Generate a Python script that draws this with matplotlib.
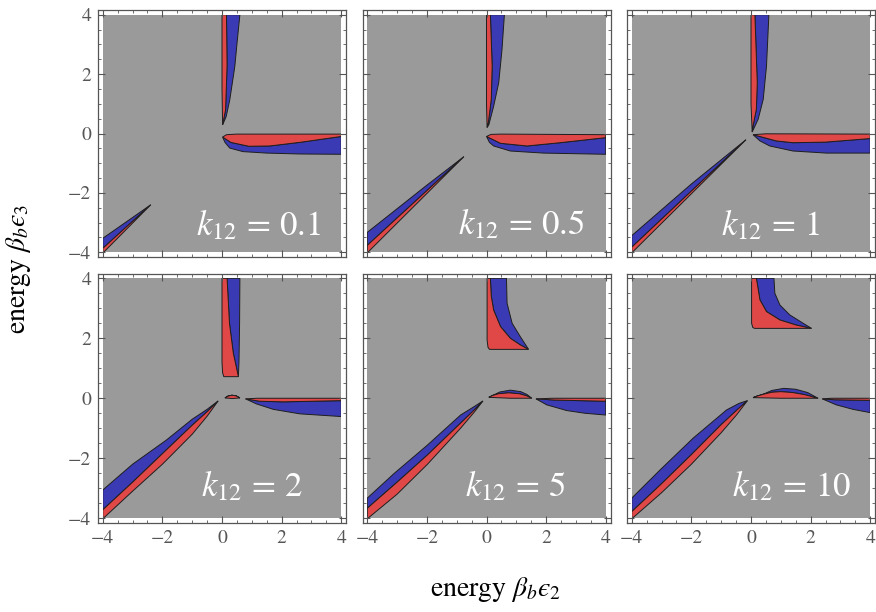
import numpy as np
import matplotlib
matplotlib.use('Agg')
import matplotlib.pyplot as plt
from matplotlib.patches import Polygon, Rectangle

plt.rcParams['font.family'] = 'STIXGeneral'
plt.rcParams['mathtext.fontset'] = 'stix'

# valores de k12 y posicion de las etiquetas
k_values = ['0.1', '0.5', '1', '2', '5', '10']
label_x = [-0.86, -0.95, -1.0, -0.70, -0.72, -0.64]
label_y = [-3.42, -3.38, -3.44, -3.28, -3.28, -3.28]

ticks_major = [-4, -2, 0, 2, 4]

# cada brazo: (borde rojo, frontera rojo/azul, borde azul)
arms_01 = [
    ([(0.02, 0.29), (0.0, 1.5), (0.0, 4)],
     [(0.02, 0.29), (0.12, 0.8), (0.17, 2.3), (0.15, 4)],
     [(0.02, 0.29), (0.14, 0.57), (0.26, 1.13), (0.43, 2.26), (0.5, 3.0), (0.6, 4)]),
    ([(0.02, -0.12), (0.15, -0.04), (0.5, -0.02), (4, -0.02)],
     [(0.02, -0.12), (0.3, -0.3), (0.9, -0.43), (1.6, -0.42), (2.6, -0.3), (4, -0.1)],
     [(0.02, -0.12), (0.1, -0.3), (0.26, -0.49), (0.7, -0.61), (1.5, -0.66), (2.6, -0.69), (4, -0.7)]),
    ([(-2.39, -2.40), (-4, -4.03)],
     [(-2.39, -2.40), (-4, -3.87)],
     [(-2.39, -2.40), (-3.2, -2.97), (-4, -3.53)]),
]

arms_05 = [
    ([(0.02, 0.2), (0.0, 1.0), (0.0, 4)],
     [(0.02, 0.2), (0.06, 0.36), (0.16, 1.15), (0.19, 2.27), (0.13, 4)],
     [(0.02, 0.2), (0.08, 0.3), (0.24, 0.92), (0.41, 1.71), (0.52, 2.83), (0.6, 4)]),
    ([(0.0, -0.1), (0.15, -0.03), (0.5, -0.02), (4, -0.04)],
     [(0.0, -0.1), (0.47, -0.33), (1.36, -0.42), (2.47, -0.31), (4, -0.14)],
     [(0.0, -0.1), (0.1, -0.3), (0.24, -0.42), (0.8, -0.59), (1.91, -0.66), (4, -0.7)]),
    ([(-0.76, -0.78), (-4, -4.02)],
     [(-0.76, -0.78), (-4, -3.77)],
     [(-0.76, -0.78), (-2.0, -1.74), (-4, -3.33)]),
]

arms_1 = [
    ([(0.04, 0.05), (0.0, 1.0), (0.0, 4)],
     [(0.04, 0.05), (0.07, 0.26), (0.18, 0.82), (0.21, 1.71), (0.13, 4)],
     [(0.04, 0.05), (0.24, 0.48), (0.41, 1.15), (0.52, 2.27), (0.6, 4)]),
    ([(0.07, -0.04), (0.5, -0.01), (4, -0.02)],
     [(0.07, -0.04), (0.85, -0.25), (1.41, -0.31), (2.5, -0.29), (4, -0.17)],
     [(0.07, -0.04), (0.3, -0.25), (0.63, -0.42), (1.41, -0.59), (2.53, -0.66), (4, -0.66)]),
    ([(-0.17, -0.21), (-4, -4.02)],
     [(-0.17, -0.21), (-4, -3.83)],
     [(-0.17, -0.21), (-2.0, -1.70), (-4, -3.44)]),
]

arms_2 = [
    ([(0.55, 0.72), (0.06, 0.72), (0.02, 0.85), (0.0, 1.2), (0.0, 4)],
     [(0.55, 0.72), (0.38, 1.5), (0.25, 2.5), (0.17, 4)],
     [(0.55, 0.72), (0.57, 1.2), (0.59, 2.5), (0.6, 4)]),
    ([(0.1, 0.01), (0.35, -0.01), (0.6, 0.01)],
     [(0.1, 0.01), (0.2, 0.07), (0.33, 0.1), (0.47, 0.08), (0.6, 0.01)],
     [(0.1, 0.01), (0.2, 0.07), (0.33, 0.1), (0.47, 0.08), (0.6, 0.01)]),
    ([(0.79, -0.02), (1.2, 0.0), (4, 0.0)],
     [(0.79, -0.02), (1.27, -0.1), (2.05, -0.12), (4, -0.08)],
     [(0.79, -0.02), (1.16, -0.19), (1.72, -0.37), (2.61, -0.52), (4, -0.61)]),
    ([(-0.13, -0.09), (-0.5, -0.6), (-1, -1.2), (-2, -2.2), (-3, -3.1), (-4, -4.02)],
     [(-0.13, -0.09), (-0.5, -0.45), (-1, -0.9), (-2, -1.85), (-3, -2.8), (-4, -3.72)],
     [(-0.13, -0.09), (-0.5, -0.37), (-1, -0.7), (-1.86, -1.39), (-3, -2.2), (-4, -3.06)]),
]

arms_5 = [
    ([(1.41, 1.63), (0.1, 1.63), (0.05, 1.7), (0.02, 1.94), (0.02, 4)],
     [(1.41, 1.63), (1.13, 1.78), (0.8, 2.0), (0.47, 2.39), (0.24, 2.94), (0.16, 3.4), (0.13, 4)],
     [(1.41, 1.63), (1.3, 1.8), (1.13, 2.06), (0.86, 2.5), (0.69, 3.17), (0.67, 4)]),
    ([(0.08, 0.03), (0.8, 0.0), (1.52, 0.0)],
     [(0.08, 0.03), (0.2, 0.09), (0.4, 0.15), (0.75, 0.18), (1.1, 0.15), (1.35, 0.08), (1.52, 0.0)],
     [(0.08, 0.03), (0.2, 0.09), (0.45, 0.21), (0.8, 0.27), (1.15, 0.22), (1.35, 0.13), (1.52, 0.0)]),
    ([(1.66, -0.02), (2.2, 0.0), (4, 0.0)],
     [(1.66, -0.02), (2.3, -0.06), (4, -0.1)],
     [(1.66, -0.02), (2.02, -0.22), (2.69, -0.41), (3.3, -0.5), (4, -0.56)]),
    ([(-0.12, -0.09), (-0.4, -0.45), (-0.87, -1.0), (-1.98, -2.2), (-3, -3.2), (-4, -4.02)],
     [(-0.12, -0.09), (-0.4, -0.38), (-0.87, -0.83), (-1.98, -1.89), (-3, -2.8), (-4, -3.67)],
     [(-0.12, -0.09), (-0.4, -0.27), (-0.87, -0.56), (-1.98, -1.56), (-3.09, -2.5), (-4, -3.33)]),
]

arms_10 = [
    ([(2.03, 2.33), (0.12, 2.33), (0.06, 2.36), (0.02, 2.5), (0.02, 4)],
     [(2.03, 2.33), (1.52, 2.44), (0.97, 2.61), (0.52, 2.89), (0.3, 3.28), (0.18, 4)],
     [(2.03, 2.33), (1.75, 2.5), (1.3, 2.78), (0.97, 3.11), (0.8, 3.5), (0.77, 4)]),
    ([(0.07, 0.02), (1.0, 0.0), (2.25, 0.0)],
     [(0.07, 0.02), (0.2, 0.07), (0.4, 0.13), (0.7, 0.2), (1.0, 0.22), (1.4, 0.19), (1.8, 0.12), (2.25, 0.0)],
     [(0.07, 0.02), (0.2, 0.07), (0.4, 0.13), (0.7, 0.26), (1.1, 0.33), (1.5, 0.3), (1.9, 0.19), (2.25, 0.0)]),
    ([(2.39, -0.02), (2.7, 0.0), (4, 0.0)],
     [(2.39, -0.02), (2.8, -0.05), (4, -0.07)],
     [(2.39, -0.02), (2.86, -0.22), (3.42, -0.37), (4, -0.48)]),
    ([(-0.12, -0.08), (-0.48, -0.55), (-1, -1.15), (-2, -2.2), (-3, -3.15), (-4, -4.02)],
     [(-0.12, -0.08), (-0.48, -0.4), (-1, -0.88), (-2, -1.88), (-3, -2.85), (-4, -3.78)],
     [(-0.12, -0.08), (-0.4, -0.17), (-0.82, -0.39), (-1.94, -1.33), (-3.05, -2.39), (-4, -3.33)]),
]

paneles = [arms_01, arms_05, arms_1, arms_2, arms_5, arms_10]

gris = '#9a9a9a'
rojo = '#e04848'
azul = '#3a3ab4'
borde = '#1e1e1e'

fig = plt.figure(figsize=(8.76, 6.12), dpi=100)
W, H = 876, 612
col_left = [98, 362.5, 627]
row_top = [10, 273.5]
row_h = [247, 249.5]
ancho = 248

for i, k in enumerate(k_values):
    r, c = divmod(i, 3)
    ax = fig.add_axes([col_left[c] / W, 1 - (row_top[r] + row_h[r]) / H, ancho / W, row_h[r] / H])
    ax.set_xlim(-4.16, 4.16)
    ax.set_ylim(-4.16, 4.16)

    fondo = Rectangle((-4, -4), 8, 8, facecolor=gris, edgecolor='none', zorder=0)
    ax.add_patch(fondo)

    for red_edge, mid, blue_edge in paneles[i]:
        p_rojo = Polygon(red_edge + mid[::-1], closed=True, facecolor=rojo,
                         edgecolor=borde, linewidth=0.7, zorder=1)
        p_azul = Polygon(mid + blue_edge[::-1], closed=True, facecolor=azul,
                         edgecolor=borde, linewidth=0.7, zorder=1)
        for p in (p_azul, p_rojo):
            ax.add_patch(p)
            p.set_clip_path(fondo)

    ax.text(label_x[i], label_y[i], r'$k_{12}\,=\,' + k + '$', color='white',
            fontsize=25, ha='left', va='baseline', zorder=3)

    ax.set_xticks(ticks_major)
    ax.set_yticks(ticks_major)
    ax.set_xticks(np.arange(-4, 4.01, 0.5), minor=True)
    ax.set_yticks(np.arange(-4, 4.01, 0.5), minor=True)
    ax.set_xticklabels(['\u22124', '\u22122', '0', '2', '4'])
    ax.set_yticklabels(['\u22124', '\u22122', '0', '2', '4'])
    ax.tick_params(which='both', direction='in', top=True, right=True,
                   color='#555555', labelsize=14, labelcolor='#555555', pad=5)
    ax.tick_params(which='major', length=5, width=0.8)
    ax.tick_params(which='minor', length=2.5, width=0.6)
    if r == 0:
        ax.tick_params(labelbottom=False)
    if c > 0:
        ax.tick_params(labelleft=False)
    for s in ax.spines.values():
        s.set_color('#555555')
        s.set_linewidth(0.9)

# epsilon lunado (U+03F5) como en la figura original
fig.text(0.021, 0.56, 'energy $\\beta_b\u03f5_3$', rotation=90, fontsize=20,
         ha='center', va='center')
fig.text(0.566, 0.036, 'energy $\\beta_b\u03f5_2$', fontsize=20,
         ha='center', va='center')

fig.savefig('out.png', dpi=100)
